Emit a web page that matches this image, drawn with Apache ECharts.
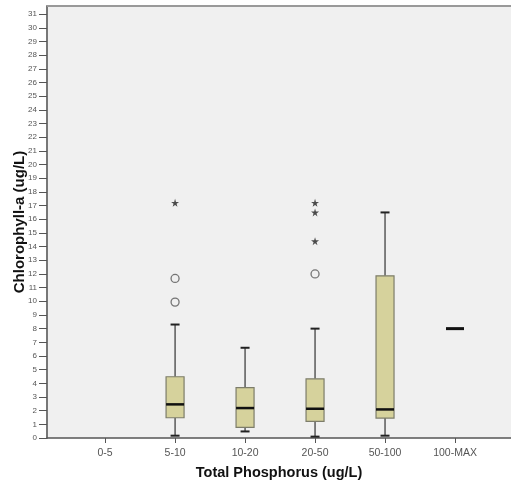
<!DOCTYPE html>
<html>
<head>
<meta charset="utf-8">
<style>html,body{margin:0;padding:0;background:#fff;}#c{width:511px;height:485px;}</style>
<script src="https://cdn.jsdelivr.net/npm/echarts@6/dist/echarts.min.js"></script>
</head>
<body>
<div id="c"></div>
<script>
var categories = ['0-5', '5-10', '10-20', '20-50', '50-100', '100-MAX'];
// [categoryIndex, lowerWhisker, Q1, median, Q3, upperWhisker]
var boxes = [
  [1, 0.17, 1.48, 2.46, 4.48, 8.3],
  [2, 0.48, 0.78, 2.19, 3.68, 6.6],
  [3, 0.10, 1.22, 2.14, 4.33, 8.0],
  [4, 0.17, 1.46, 2.09, 11.86, 16.5],
  [5, 8.0, 8.0, 8.0, 8.0, 8.0]
];
var outliersCircle = [[1, 11.67], [1, 9.94], [3, 12.0]];
var outliersStar = [[1, 17.2], [3, 17.2], [3, 16.5], [3, 14.4]];
var yTicks = [];
for (var t = 0; t <= 31; t++) yTicks.push(t);
var xTicks = [0, 1, 2, 3, 4, 5];

var chart = echarts.init(document.getElementById('c'), null, {renderer: 'canvas'});
var starPath = 'path://M50,0 L61,35 L98,35 L68,57 L79,91 L50,70 L21,91 L32,57 L2,35 L39,35 Z';

function renderBox(params, api) {
  var x = api.value(0);
  var lo = api.coord([x, api.value(1)]);
  var q1 = api.coord([x, api.value(2)]);
  var md = api.coord([x, api.value(3)]);
  var q3 = api.coord([x, api.value(4)]);
  var hi = api.coord([x, api.value(5)]);
  var cx = lo[0];
  var hw = 9, cw = 4.5;
  var children = [];
  if (api.value(2) === api.value(4)) {
    children.push({type: 'line', shape: {x1: cx - hw, y1: md[1], x2: cx + hw, y2: md[1]}, style: {stroke: '#111', lineWidth: 3}});
    return {type: 'group', children: children};
  }
  children.push({type: 'line', shape: {x1: cx, y1: hi[1], x2: cx, y2: q3[1]}, style: {stroke: '#333', lineWidth: 1.2}});
  children.push({type: 'line', shape: {x1: cx, y1: q1[1], x2: cx, y2: lo[1]}, style: {stroke: '#333', lineWidth: 1.2}});
  children.push({type: 'line', shape: {x1: cx - cw, y1: hi[1], x2: cx + cw, y2: hi[1]}, style: {stroke: '#222', lineWidth: 2}});
  children.push({type: 'line', shape: {x1: cx - cw, y1: lo[1], x2: cx + cw, y2: lo[1]}, style: {stroke: '#222', lineWidth: 2}});
  children.push({type: 'rect', shape: {x: cx - hw, y: q3[1], width: hw * 2, height: q1[1] - q3[1]}, style: {fill: '#d6d29c', stroke: '#7d7d6a', lineWidth: 1.2}});
  children.push({type: 'line', shape: {x1: cx - hw, y1: md[1], x2: cx + hw, y2: md[1]}, style: {stroke: '#111', lineWidth: 2.5}});
  return {type: 'group', children: children};
}

chart.setOption({
  animation: false,
  grid: {left: 47, top: 6, right: 0, bottom: 47, show: true, backgroundColor: '#f0f0f0', borderWidth: 0,
    containLabel: false, outerBoundsMode: 'none'},
  xAxis: {
    type: 'value', min: -0.83, max: 5.8,
    name: 'Total Phosphorus (ug/L)', nameLocation: 'middle', nameGap: 27, nameMoveOverlap: false,
    nameTextStyle: {fontFamily: 'Liberation Sans', fontWeight: 'bold', fontSize: 14.5, color: '#111'},
    axisLine: {show: true, onZero: false, lineStyle: {color: '#555', width: 1.5}},
    axisTick: {show: true, length: 5, customValues: xTicks, lineStyle: {color: '#555'}},
    axisLabel: {customValues: xTicks, fontFamily: 'Liberation Sans', fontSize: 10.5, color: '#555', margin: 10,
      formatter: function (v) { var i = Math.round(v); return Math.abs(v - i) < 1e-6 ? (categories[i] || '') : ''; }},
    splitLine: {show: false}
  },
  yAxis: {
    type: 'value', min: 0, max: 31.6,
    name: 'Chlorophyll-a (ug/L)', nameLocation: 'middle', nameGap: 20, nameMoveOverlap: false,
    nameTextStyle: {fontFamily: 'Liberation Sans', fontWeight: 'bold', fontSize: 15, color: '#111'},
    axisLine: {show: true, onZero: false, lineStyle: {color: '#777', width: 2}},
    axisTick: {show: true, length: 8, customValues: yTicks, lineStyle: {color: '#555'}},
    axisLabel: {customValues: yTicks, fontFamily: 'Liberation Sans Narrow, Liberation Sans', fontSize: 8, color: '#555', margin: 10},
    splitLine: {show: false}
  },
  series: [
    {type: 'custom', data: boxes, renderItem: renderBox, encode: {x: 0, y: [1, 2, 3, 4, 5]}, z: 3},
    {type: 'scatter', data: outliersCircle, symbol: 'circle', symbolSize: 8,
      itemStyle: {color: '#f0f0f0', borderColor: '#555', borderWidth: 1.3}, z: 4},
    {type: 'scatter', data: outliersStar, symbol: starPath, symbolSize: 8,
      itemStyle: {color: '#222'}, z: 4}
  ],
  graphic: [{type: 'rect', shape: {x: 47, y: 5, width: 464, height: 2}, style: {fill: '#999'}, z: 10}]
});
</script>
</body>
</html>
